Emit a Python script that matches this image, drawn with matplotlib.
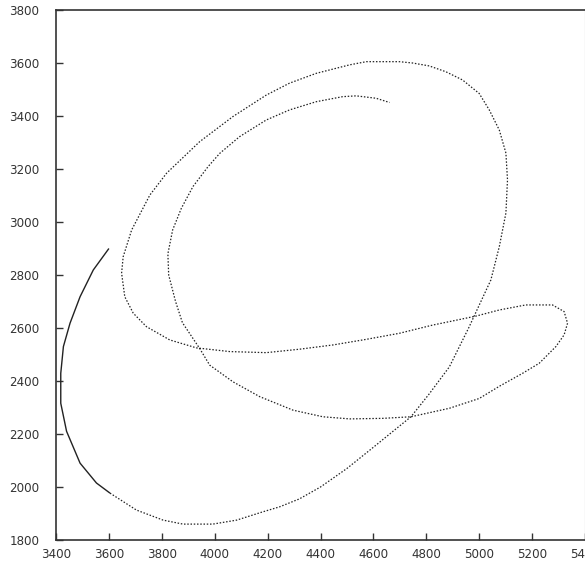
import matplotlib
matplotlib.use("Agg")
import matplotlib.pyplot as plt

# Path of the trajectory, in drawing order
x_path = [3600, 3541, 3491, 3453, 3428, 3418, 3418, 3440, 3491, 3553, 3604,
          3704, 3805, 3880, 3993, 4083, 4181, 4245, 4320, 4400, 4500, 4600,
          4680, 4742, 4810, 4887, 4960, 5044, 5076, 5101, 5107, 5101, 5076,
          5038, 5000, 4937, 4874, 4811, 4748, 4698, 4623, 4573, 4510, 4384,
          4283, 4195, 4069, 3943, 3818, 3755, 3686, 3654, 3648, 3660, 3692,
          3742, 3830, 3931, 4057, 4195, 4321, 4447, 4572, 4698, 4824, 4887,
          4988, 5076, 5176, 5277, 5321, 5334, 5321, 5290, 5227, 5164, 5076,
          5000, 4887, 4742, 4635, 4510, 4409, 4296, 4170, 4069, 3981, 3943,
          3878, 3852, 3826, 3823, 3841, 3874, 3918, 3975, 4019, 4094, 4195,
          4283, 4384, 4484, 4535, 4610, 4661]
y_path = [2900, 2819, 2718, 2618, 2530, 2429, 2316, 2210, 2090, 2015, 1977,
          1913, 1875, 1860, 1860, 1875, 1906, 1925, 1955, 2000, 2070, 2150,
          2215, 2265, 2350, 2453, 2600, 2781, 2907, 3034, 3159, 3260, 3347,
          3423, 3485, 3536, 3567, 3589, 3600, 3605, 3605, 3605, 3593, 3561,
          3524, 3479, 3398, 3303, 3184, 3102, 2970, 2869, 2807, 2718, 2656,
          2605, 2555, 2525, 2511, 2507, 2520, 2536, 2557, 2580, 2611, 2624,
          2645, 2668, 2687, 2687, 2662, 2618, 2574, 2530, 2467, 2429, 2380,
          2334, 2297, 2265, 2259, 2257, 2265, 2290, 2341, 2397, 2460, 2523,
          2620, 2700, 2800, 2880, 2970, 3052, 3134, 3209, 3259, 3322, 3385,
          3423, 3454, 3473, 3476, 3467, 3451]
n_solid = 11  # first points drawn as a continuous stroke

x_ticks = [3400, 3600, 3800, 4000, 4200, 4400, 4600, 4800, 5000, 5200, 5400]
y_ticks = [1800, 2000, 2200, 2400, 2600, 2800, 3000, 3200, 3400, 3600, 3800]

fig = plt.figure(figsize=(5.85, 5.62), dpi=100)
ax = fig.add_axes([56 / 585, 22 / 562, 529 / 585, 530 / 562])

ax.plot(x_path[:n_solid], y_path[:n_solid], color="#222222", lw=1.0,
        solid_capstyle="butt")
ax.plot(x_path[n_solid - 1:], y_path[n_solid - 1:], color="#222222", lw=0.9,
        linestyle=(0, (1.2, 1.4)))

ax.set_xlim(3400, 5400)
ax.set_ylim(1800, 3800)
ax.set_xticks(x_ticks)
ax.set_yticks(y_ticks)
ax.tick_params(direction="in", length=5, width=1, color="#333333",
               labelsize=8.6, labelcolor="#333333")
ax.tick_params(axis="y", pad=12)
ax.tick_params(axis="x", pad=6)
for lab in ax.get_yticklabels():
    lab.set_horizontalalignment("right")

for side in ("left", "bottom", "top"):
    ax.spines[side].set_color("#333333")
    ax.spines[side].set_linewidth(1.2)
ax.spines["right"].set_color("#999999")
ax.spines["right"].set_linewidth(0.8)

fig.savefig("out.png", dpi=100)
